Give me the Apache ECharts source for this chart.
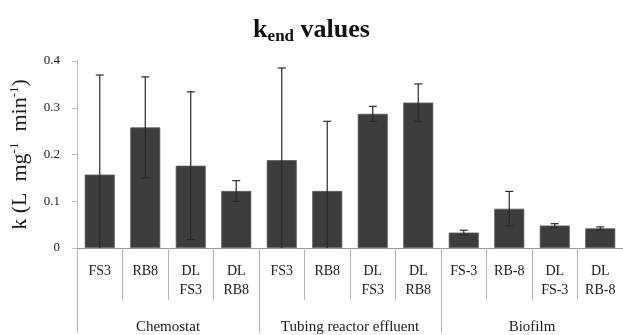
<!DOCTYPE html>
<html>
<head>
<meta charset="utf-8">
<script src="https://cdn.jsdelivr.net/npm/echarts@6/dist/echarts.min.js"></script>
<style>
  html, body { margin: 0; padding: 0; background: #fff; }
  #chart { width: 623px; height: 335px; }
</style>
</head>
<body>
<div id="chart"></div>
<script>
// Sample labels (two-line where the library wraps on \n)
var categories = ['FS3', 'RB8', 'DL\nFS3', 'DL\nRB8',
                  'FS3', 'RB8', 'DL\nFS3', 'DL\nRB8',
                  'FS-3', 'RB-8', 'DL\nFS-3', 'DL\nRB-8'];
// Sample origin groups, four samples each
var groups = ['Chemostat', 'Tubing reactor effluent', 'Biofilm'];
// k_end means and their standard deviations
var kValues = [0.157, 0.258, 0.176, 0.122,
               0.188, 0.122, 0.287, 0.311,
               0.033, 0.084, 0.048, 0.042];
var kErrors = [0.213, 0.108, 0.158, 0.022,
               0.197, 0.149, 0.016, 0.040,
               0.005, 0.037, 0.004, 0.003];
var yTicks = [0, 0.1, 0.2, 0.3, 0.4];

var SERIF = 'Liberation Serif';
var chart = echarts.init(document.getElementById('chart'), null, { renderer: 'canvas' });

var errData = kValues.map(function (v, i) { return [i, v, kErrors[i]]; });

function renderErrorBar(params, api) {
  var i = api.value(0), v = api.value(1), e = api.value(2);
  var yMin = yTicks[0];
  var hi = v + e;
  var lo = Math.max(yMin, v - e);
  var top = api.coord([i, hi]);
  var bot = api.coord([i, lo]);
  var cap = 4;
  var style = { stroke: '#2a2a2a', lineWidth: 1.2 };
  var children = [
    { type: 'line', shape: { x1: top[0], y1: top[1], x2: bot[0], y2: bot[1] }, style: style },
    { type: 'line', shape: { x1: top[0] - cap, y1: top[1], x2: top[0] + cap, y2: top[1] }, style: style }
  ];
  if (v - e > yMin) {
    children.push({ type: 'line', shape: { x1: bot[0] - cap, y1: bot[1], x2: bot[0] + cap, y2: bot[1] }, style: style });
  }
  return { type: 'group', children: children };
}

var option = {
  backgroundColor: '#ffffff',
  animation: false,
  title: {
    text: 'k{sub|end} values',
    left: 'center',
    top: 10,
    textStyle: {
      fontFamily: SERIF, fontSize: 26, fontWeight: 'bold', color: '#111',
      rich: {
        sub: { fontFamily: SERIF, fontSize: 17, fontWeight: 'bold', color: '#111', verticalAlign: 'bottom', padding: [13, 0, 0, 0] }
      }
    }
  },
  grid: { left: 77, right: 0, top: 61, bottom: 85, containLabel: false },
  xAxis: [
    {
      type: 'category',
      data: categories,
      position: 'bottom',
      axisLine: { show: true, lineStyle: { color: '#9a9a9a', width: 1 } },
      axisTick: { show: true, interval: 0, length: 52, lineStyle: { color: '#b5b5b5', width: 1 } },
      axisLabel: {
        interval: 0, margin: 14, fontFamily: SERIF, fontSize: 14, color: '#1a1a1a', lineHeight: 19
      }
    },
    {
      type: 'category',
      data: groups,
      position: 'bottom',
      axisLine: { show: false },
      axisTick: { show: true, interval: 0, length: 85, lineStyle: { color: '#b5b5b5', width: 1 } },
      axisLabel: {
        interval: 0, margin: 71, fontFamily: SERIF, fontSize: 15, color: '#1a1a1a', lineHeight: 16
      }
    }
  ],
  yAxis: {
    type: 'value',
    min: yTicks[0],
    max: yTicks[yTicks.length - 1],
    interval: 0.1,
    name: 'k (L  mg{sup|-1}  min{sup|-1})',
    nameLocation: 'middle',
    nameGap: 45,
    nameRotate: 90,
    nameTextStyle: {
      fontFamily: SERIF, fontSize: 22, color: '#1a1a1a',
      rich: {
        sup: { fontFamily: SERIF, fontSize: 13, color: '#1a1a1a', verticalAlign: 'top', padding: [0, 0, 11, 0] }
      }
    },
    axisLine: { show: true, lineStyle: { color: '#bdbdbd', width: 1 } },
    axisTick: { show: true, length: 5, lineStyle: { color: '#bdbdbd' } },
    splitLine: { show: false },
    axisLabel: { fontFamily: SERIF, fontSize: 13, color: '#1a1a1a', margin: 17 }
  },
  series: [
    {
      type: 'bar',
      data: kValues,
      barWidth: '66%',
      itemStyle: { color: '#3d3d3d', borderColor: '#5a5a5a', borderWidth: 0.8 },
      z: 2
    },
    {
      type: 'custom',
      data: errData,
      renderItem: renderErrorBar,
      encode: { x: 0, y: 1 },
      clip: false,
      z: 3
    }
  ]
};

chart.setOption(option);
</script>
</body>
</html>
